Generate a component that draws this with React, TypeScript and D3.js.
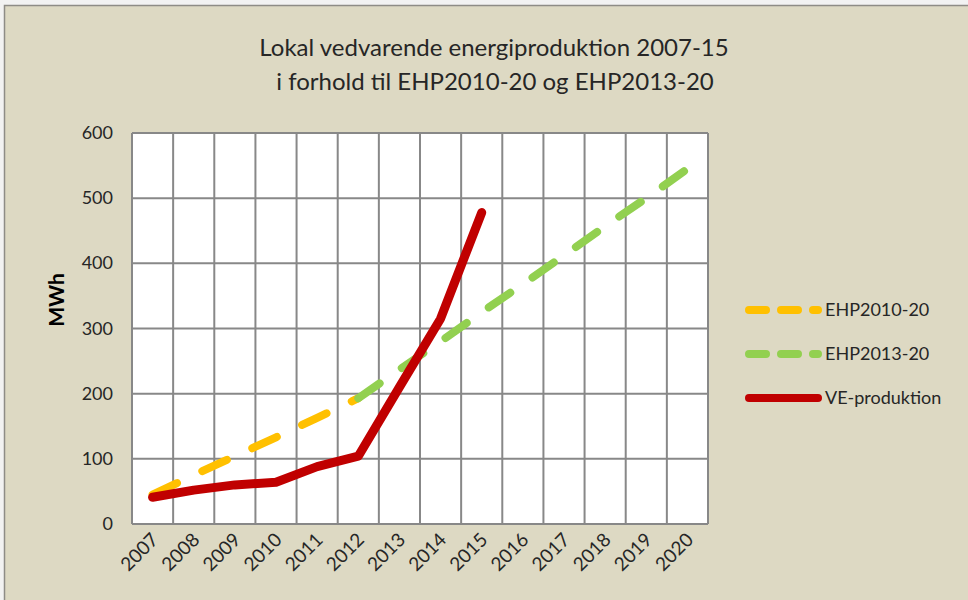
import React from "react";
import * as d3 from "d3";

const years = ["2007", "2008", "2009", "2010", "2011", "2012", "2013", "2014", "2015", "2016", "2017", "2018", "2019", "2020"];
const yTicks = [0, 100, 200, 300, 400, 500, 600];

const ehp2010Years = ["2007", "2008", "2009", "2010", "2011", "2012"];
const ehp2010Values = [45, 75, 104, 133, 163, 193];

const ehp2013Years = ["2012", "2013", "2014", "2015", "2016", "2017", "2018", "2019", "2020"];
const ehp2013Values = [193, 237, 280, 325, 368, 412, 457, 500, 545];

const veYears = ["2007", "2008", "2009", "2010", "2011", "2012", "2013", "2014", "2015"];
const veValues = [41, 52, 60, 64, 88, 104, 210, 315, 478];

const titleLines = ["Lokal vedvarende energiproduktion 2007-15", "i forhold til EHP2010-20 og EHP2013-20"];
const yAxisTitle = "MWh";
const legendNames = ["EHP2010-20", "EHP2013-20", "VE-produktion"];

const W = 968;
const H = 600;
const plot = { left: 132, right: 708, top: 133, bottom: 524 };
const FONT = "Lato, 'Open Sans', sans-serif";

const ORANGE = "#FFC000";
const GREEN = "#92D050";
const RED = "#C00000";
const GRID = "#888888";

export default function App() {
  const x = d3.scaleBand<string>().domain(years).range([plot.left, plot.right]).padding(0);
  const y = d3.scaleLinear().domain([0, 600]).range([plot.bottom, plot.top]);
  const cx = (yr: string) => (x(yr) as number) + x.bandwidth() / 2;

  const line = d3
    .line<[string, number]>()
    .x((d) => cx(d[0]))
    .y((d) => y(d[1]));

  const zip = (ys: string[], vs: number[]) => ys.map((yr, i) => [yr, vs[i]] as [string, number]);

  const boundaries = years.map((yr) => x(yr) as number).concat([plot.right]);

  const legendItems = [
    { name: legendNames[0], color: ORANGE, dash: "17 15", y: 310 },
    { name: legendNames[1], color: GREEN, dash: "17 15", y: 354 },
    { name: legendNames[2], color: RED, dash: undefined as string | undefined, y: 398 },
  ];

  return (
    <svg
      width={W}
      height={H}
      style={{ position: "absolute", left: 0, top: 0, display: "block", background: "#F2F2F2" }}
    >
      <rect x={4.5} y={5.5} width={W + 10} height={H + 10} fill="#DDD9C3" stroke="#8E8C86" strokeWidth={1.5} />

      {/* title */}
      <g fontFamily={FONT} fontSize={24} fill="#262626" textAnchor="middle">
        <text x={494} y={56}>{titleLines[0]}</text>
        <text x={495} y={90}>{titleLines[1]}</text>
      </g>

      {/* plot area */}
      <rect x={plot.left} y={plot.top} width={plot.right - plot.left} height={plot.bottom - plot.top} fill="#FFFFFF" />
      <g stroke={GRID} strokeWidth={2}>
        {yTicks.map((t) => (
          <line key={"h" + t} x1={plot.left} x2={plot.right} y1={y(t)} y2={y(t)} />
        ))}
        {boundaries.map((b, i) => (
          <line key={"v" + i} x1={b} x2={b} y1={plot.top} y2={plot.bottom} />
        ))}
      </g>

      {/* y tick labels */}
      <g fontFamily={FONT} fontSize={18} fill="#262626" textAnchor="end">
        {yTicks.map((t) => (
          <text key={t} x={113} y={y(t) + 6}>{t}</text>
        ))}
      </g>

      {/* y axis title */}
      <text
        transform={`translate(64, 300) rotate(-90)`}
        fontFamily={FONT}
        fontSize={21}
        fontWeight="bold"
        fill="#000"
        textAnchor="middle"
      >
        {yAxisTitle}
      </text>

      {/* x tick labels */}
      <g fontFamily={FONT} fontSize={19} fill="#262626" textAnchor="end">
        {years.map((yr) => (
          <text key={yr} transform={`translate(${cx(yr) + 7}, ${541}) rotate(-45)`}>{yr}</text>
        ))}
      </g>

      {/* series */}
      <path
        d={line(zip(ehp2010Years, ehp2010Values)) as string}
        fill="none"
        stroke={ORANGE}
        strokeWidth={8}
        strokeDasharray="27 28"
        strokeLinecap="round"
      />
      <path
        d={line(zip(ehp2013Years, ehp2013Values)) as string}
        fill="none"
        stroke={GREEN}
        strokeWidth={8}
        strokeDasharray="26 27"
        strokeLinecap="round"
      />
      <path
        d={line(zip(veYears, veValues)) as string}
        fill="none"
        stroke={RED}
        strokeWidth={9}
        strokeLinecap="round"
        strokeLinejoin="round"
      />

      {/* legend */}
      <g fontFamily={FONT} fontSize={18} fill="#262626">
        {legendItems.map((it) => (
          <g key={it.name}>
            <line
              x1={749}
              x2={818}
              y1={it.y}
              y2={it.y}
              stroke={it.color}
              strokeWidth={8}
              strokeLinecap="round"
              strokeDasharray={it.dash}
            />
            <text x={825} y={it.y + 6}>{it.name}</text>
          </g>
        ))}
      </g>
    </svg>
  );
}
